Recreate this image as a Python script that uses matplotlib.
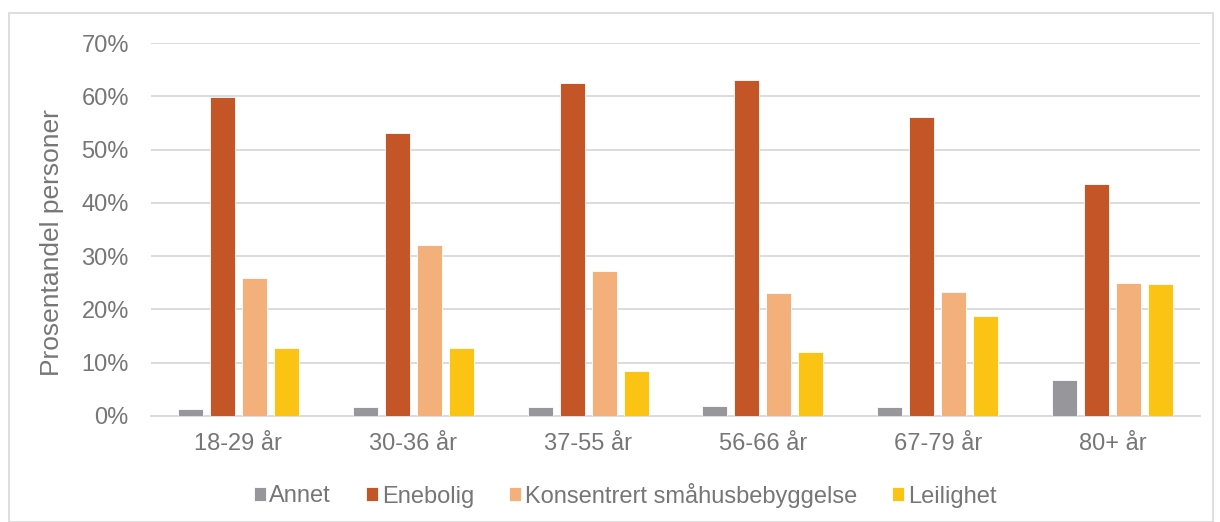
import matplotlib
matplotlib.use("Agg")
import matplotlib.pyplot as plt
import numpy as np
from matplotlib.patches import Rectangle

categories = ["18-29 år", "30-36 år", "37-55 år", "56-66 år", "67-79 år", "80+ år"]
series_names = ["Annet", "Enebolig", "Konsentrert småhusbebyggelse", "Leilighet"]
annet = [1.4, 1.6, 1.7, 1.8, 1.7, 6.8]
enebolig = [59.8, 53.2, 62.5, 63.1, 56.1, 43.6]
konsentrert = [25.9, 32.1, 27.3, 23.0, 23.3, 24.9]
leilighet = [12.7, 12.8, 8.4, 12.0, 18.8, 24.7]
series_values = [annet, enebolig, konsentrert, leilighet]
colors = ["#97979b", "#c45527", "#f4b07b", "#fbc314"]
yticks = [0, 10, 20, 30, 40, 50, 60, 70]

plt.rcParams['font.family'] = ['Liberation Sans', 'DejaVu Sans']
text_color = "#767676"

fig = plt.figure(figsize=(12.2, 5.22), dpi=100)
fig.patches.append(Rectangle((9/1220, 0), 1204/1220, 1 - 13/522, transform=fig.transFigure,
                             fill=False, edgecolor="#d9d9d9", linewidth=1.2))
ax = fig.add_axes([151/1220, 1 - 416/522, 1049/1220, (416 - 43)/522])

x = np.arange(len(categories))
width = 0.143
step = 0.183
for i, (name, vals, c) in enumerate(zip(series_names, series_values, colors)):
    ax.bar(x + (i - 1.5) * step, vals, width, color=c, label=name,
           edgecolor="white", linewidth=0.6, zorder=3)

ax.set_xlim(-0.5, len(categories) - 0.5)
ax.set_ylim(0, 70)
ax.set_yticks(yticks)
ax.set_yticklabels([f"{t}%" for t in yticks])
ax.set_xticks(x)
ax.set_xticklabels(categories)
ax.tick_params(axis='both', length=0, labelsize=17, colors=text_color)
ax.tick_params(axis='x', pad=12)
ax.tick_params(axis='y', pad=16)
ax.grid(axis='y', color="#d9d9d9", linewidth=1.3, zorder=0)
for s in ["top", "right", "left"]:
    ax.spines[s].set_visible(False)
ax.spines["bottom"].set_color("#d9d9d9")
ax.spines["bottom"].set_linewidth(1.3)
ax.set_ylabel("Prosentandel personer", fontsize=19, color=text_color)
ax.yaxis.set_label_coords(-(151 - 52) / 1049, (416 - 243) / 373)
ax.yaxis.label.set_verticalalignment('center')

leg = fig.legend(loc="center", bbox_to_anchor=(625/1220, 1 - 495/522), ncol=4, frameon=False,
                 fontsize=17, handlelength=0.5, handleheight=0.5, handletextpad=0.15,
                 columnspacing=1.5)
for t in leg.get_texts():
    t.set_color(text_color)

fig.savefig("out.png", dpi=100)
